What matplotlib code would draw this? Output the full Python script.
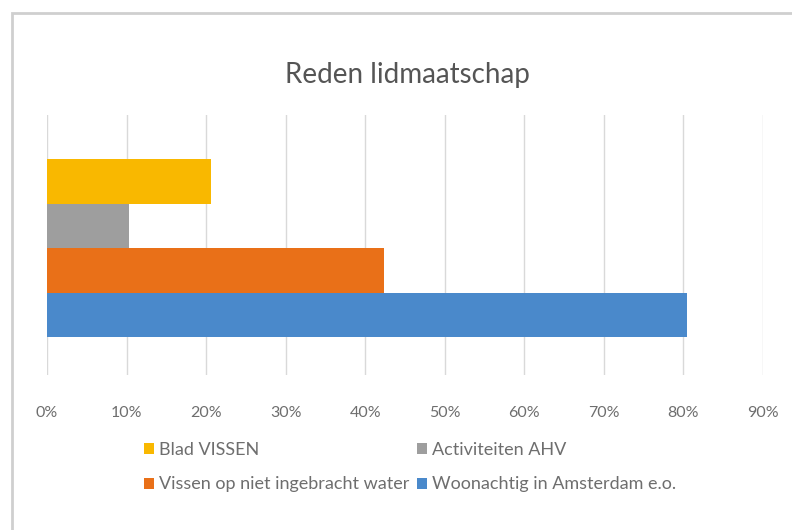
import matplotlib
matplotlib.use('Agg')
import matplotlib.pyplot as plt
from matplotlib.patches import Rectangle, Patch
from matplotlib.ticker import PercentFormatter

# series, bottom to top (Excel order)
reasons = ['Woonachtig in Amsterdam e.o.', 'Vissen op niet ingebracht water',
           'Activiteiten AHV', 'Blad VISSEN']
shares = [0.804, 0.424, 0.103, 0.206]
colors = ['#4A89CB', '#E97018', '#9E9E9E', '#F9B800']
xticks = [0.0, 0.1, 0.2, 0.3, 0.4, 0.5, 0.6, 0.7, 0.8, 0.9]

plt.rcParams['font.family'] = ['Lato', 'DejaVu Sans']

fig = plt.figure(figsize=(7.92, 5.30), dpi=100)
fig.patches.append(Rectangle((12 / 792, -0.1), 1.2, 1 - 13 / 530 + 0.1,
                             transform=fig.transFigure, fill=False,
                             edgecolor='#CFCFCF', linewidth=2))

ax = fig.add_axes([47 / 792, 1 - 375 / 530, 716 / 792, 260 / 530])
for i in range(len(reasons)):
    ax.barh(i, shares[i], height=1.0, color=colors[i], zorder=2)

ax.set_xlim(0, 0.9)
ax.set_ylim(-1.354, 4.49)
ax.set_xticks(xticks)
ax.xaxis.set_major_formatter(PercentFormatter(1.0, decimals=0))
ax.set_yticks([])
ax.grid(axis='x', color='#D9D9D9', linewidth=1, zorder=0)
for s in ax.spines.values():
    s.set_visible(False)
ax.tick_params(axis='x', length=0, pad=22, labelsize=11.5, labelcolor='#6E6E6E')

fig.text(407 / 792, 1 - 75 / 530, 'Reden lidmaatschap', ha='center', va='center',
         fontsize=20, color='#555555')

# legend: column-major fill, 2 columns
order = [3, 1, 2, 0]
handles = [Patch(facecolor=colors[i]) for i in order]
labels = [reasons[i] for i in order]
fig.legend(handles, labels, ncol=2, loc='center', bbox_to_anchor=(410 / 792, 1 - 467 / 530),
           frameon=False, fontsize=13, labelcolor='#6E6E6E', handlelength=0.55,
           handleheight=0.55, handletextpad=0.3, columnspacing=0.4, labelspacing=1.05)

fig.savefig('out.png', dpi=100, facecolor='white')
